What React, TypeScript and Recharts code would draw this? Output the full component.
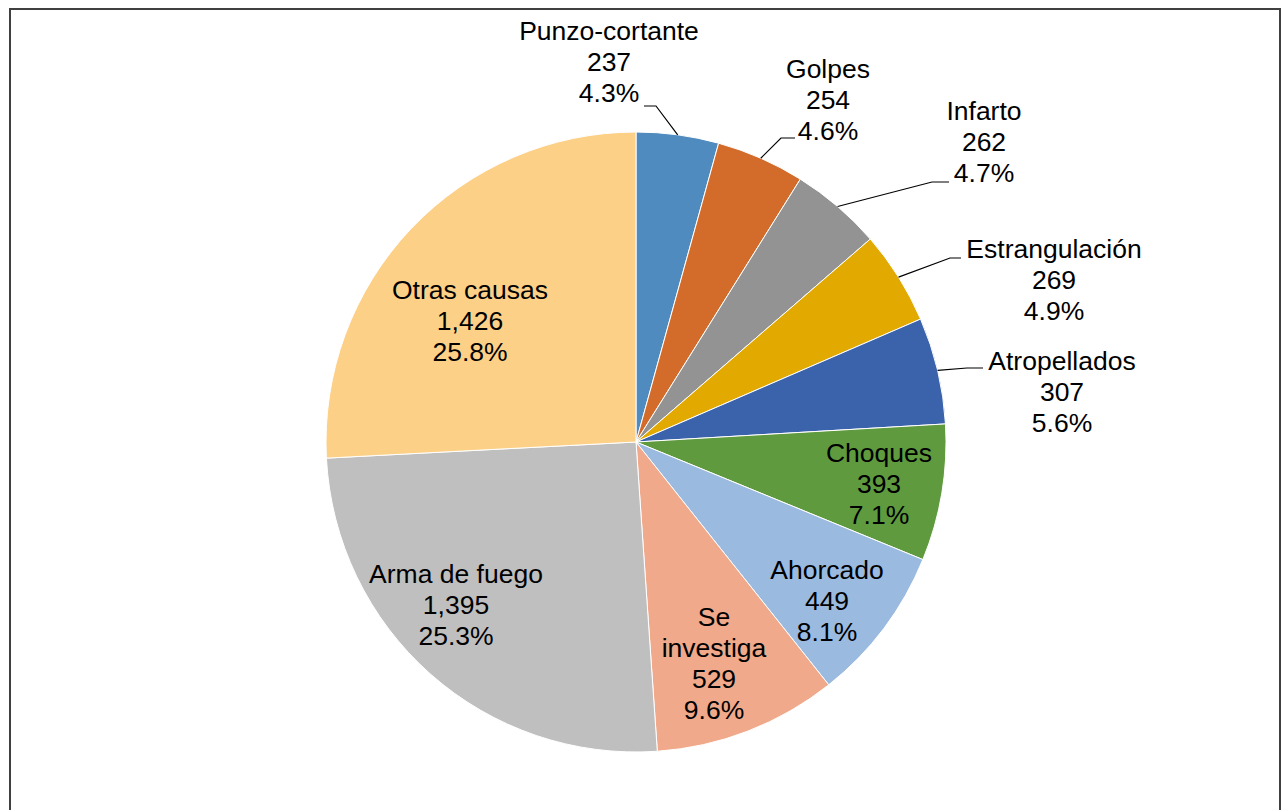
import { PieChart, Pie, Cell } from 'recharts';

const causes = [
  'Punzo-cortante',
  'Golpes',
  'Infarto',
  'Estrangulación',
  'Atropellados',
  'Choques',
  'Ahorcado',
  'Se investiga',
  'Arma de fuego',
  'Otras causas',
];
const counts = [237, 254, 262, 269, 307, 393, 449, 529, 1395, 1426];
const colors = [
  '#4F8BBE', '#D36C2B', '#939393', '#E2A900', '#3A63AC',
  '#5F9A3E', '#9BBAE0', '#F0A98A', '#BFBFBF', '#FDD087',
];

const data = causes.map((name, i) => ({ name, value: counts[i] }));

// label placement relative to the pie centre (first line centre), plus leader elbows for outside labels
const labelLayout = [
  { dx: -27, dy: -411, elbow: [20, -336], hx: 8 },
  { dx: 192, dy: -373, elbow: [145, -304], hx: 159 },
  { dx: 348, dy: -331, elbow: [296, -260], hx: 313 },
  { dx: 418, dy: -193, elbow: [314, -184], hx: 325 },
  { dx: 426, dy: -81, elbow: [331, -74], hx: 347 },
  { dx: 243, dy: 11 },
  { dx: 191, dy: 128 },
  { dx: 78, dy: 175 },
  { dx: -180, dy: 132 },
  { dx: -166, dy: -152 },
];

const RAD = Math.PI / 180;
const LINE_H = 31;

const renderLabel = (props: any) => {
  const { cx, cy, midAngle, outerRadius, index, name, value, percent } = props;
  const l = labelLayout[index];
  const nameLines = name === 'Se investiga' ? ['Se', 'investiga'] : [name];
  const lines = [...nameLines, value.toLocaleString('en-US'), `${(percent * 100).toFixed(1)}%`];
  const tx = cx + l.dx;
  const ty = cy + l.dy;
  let leader = null;
  if (l.elbow) {
    const sx = cx + outerRadius * Math.cos(-midAngle * RAD);
    const sy = cy + outerRadius * Math.sin(-midAngle * RAD);
    const ex = cx + l.elbow[0];
    const ey = cy + l.elbow[1];
    leader = (
      <polyline
        points={`${sx},${sy} ${ex},${ey} ${cx + l.hx},${ey}`}
        fill="none"
        stroke="#000"
        strokeWidth={1.2}
      />
    );
  }
  return (
    <g key={`lbl-${index}`}>
      {leader}
      {lines.map((t, i) => (
        <text
          key={i}
          x={tx}
          y={ty + i * LINE_H}
          textAnchor="middle"
          dominantBaseline="central"
          fill="#000"
          fontSize={26.5}
          fontFamily="'Liberation Sans', Arial, sans-serif"
        >
          {t}
        </text>
      ))}
    </g>
  );
};

export default function App() {
  return (
    <div style={{ position: 'absolute', left: 0, top: 0, width: 1282, height: 810, background: '#fff', overflow: 'hidden' }}>
      <div
        style={{
          position: 'absolute',
          left: 9,
          top: 8,
          width: 1272,
          height: 820,
          border: '2px solid #404040',
          boxSizing: 'border-box',
        }}
      />
      <PieChart
        width={1282}
        height={810}
        margin={{ top: 0, right: 0, bottom: 0, left: 0 }}
        style={{ position: 'absolute', left: 0, top: 0 }}
      >
        <Pie
          data={data}
          dataKey="value"
          nameKey="name"
          cx={636}
          cy={442}
          outerRadius={310}
          startAngle={90}
          endAngle={-270}
          stroke="#fff"
          strokeWidth={1}
          label={renderLabel}
          labelLine={false}
          isAnimationActive={false}
        >
          {data.map((d, i) => (
            <Cell key={d.name} fill={colors[i]} />
          ))}
        </Pie>
      </PieChart>
    </div>
  );
}
